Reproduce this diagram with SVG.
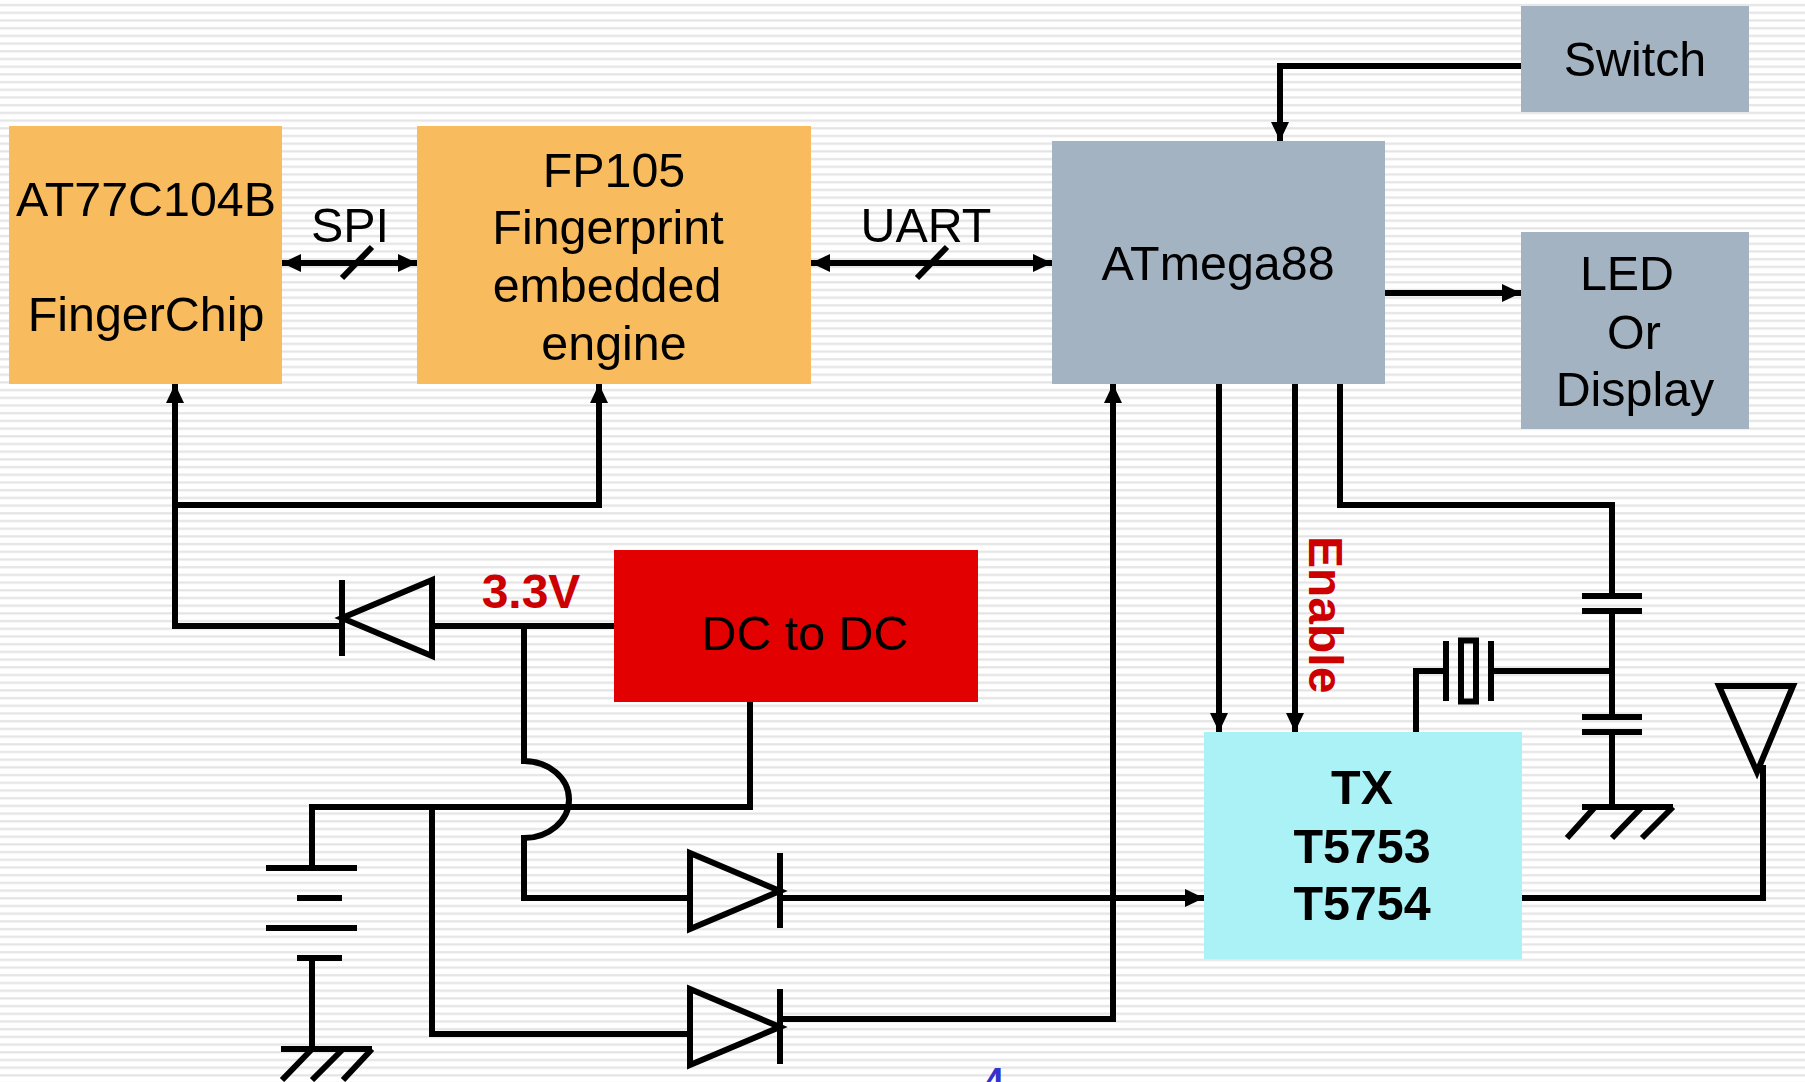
<svg xmlns="http://www.w3.org/2000/svg" width="1805" height="1082" viewBox="0 0 1805 1082">
<style>
.box-o{fill:#F8BC5E}.box-g{fill:#A3B3C2}
text{font-family:"Liberation Sans",Arial,sans-serif;font-size:48.4px;fill:#000;text-anchor:middle}
.b{font-weight:bold}.r{fill:#CC0000;font-size:48px}
.w{fill:none;stroke:#000;stroke-width:6;stroke-linejoin:miter}
.a{marker-end:url(#ah)}.aa{marker-end:url(#ah);marker-start:url(#ah)}
</style>
<defs>
<pattern id="stripes" patternUnits="userSpaceOnUse" width="20" height="7.7">
<rect width="20" height="7.7" fill="#fff"/>
<rect y="4" width="20" height="2.2" fill="#E4E4E4"/>
</pattern>
<marker id="ah" markerUnits="userSpaceOnUse" markerWidth="20" markerHeight="20" refX="19" refY="10" orient="auto-start-reverse">
<path d="M0 1L19 10L0 19z" fill="#000"/>
</marker>
</defs>
<rect id="background" width="1805" height="1082" fill="url(#stripes)"/>
<g id="connectors">
<path class="w aa" d="M282 263H417"/>
<path class="w" d="M372 247L342 278"/>
<path class="w aa" d="M811 263H1052"/>
<path class="w" d="M947 247L917 278"/>
<path class="w a" d="M1521 66H1280V141"/>
<path class="w a" d="M1385 293H1521"/>
<path class="w a" d="M1219 384V732"/>
<path class="w a" d="M1295 384V732"/>
<path class="w" d="M1340 384V505H1612V596"/>
<path class="w" d="M1612 611V717"/>
<path class="w" d="M1612 732V807"/>
<path class="w" d="M1612 671H1491"/>
<path class="w" d="M1446 671H1416V732"/>
<path class="w a" d="M342 626H175V384"/>
<path class="w a" d="M175 505H599V384"/>
<path class="w" d="M432 626H614"/>
<path class="w" d="M524 626V761A45 38.5 0 0 1 524 838V898H690"/>
<path class="w" d="M750 702V807H312V868"/>
<path class="w" d="M432 807V1034H690"/>
<path class="w a" d="M780 898H1204"/>
<path class="w a" d="M780 1019H1113V384"/>
<path class="w" d="M1522 898H1763V765"/>
<path class="w" d="M312 958V1049"/>
</g>
<g id="at77c104b"><rect class="box-o" x="9" y="126" width="273" height="258"/><text x="146" y="216">AT77C104B</text><text x="146" y="331">FingerChip</text></g>
<g id="fp105"><rect class="box-o" x="417" y="126" width="394" height="258"/><text x="614" y="187">FP105</text><text x="608" y="244">Fingerprint</text><text x="607" y="302">embedded</text><text x="614" y="360">engine</text></g>
<g id="atmega88"><rect class="box-g" x="1052" y="141" width="333" height="243"/><text x="1218" y="280">ATmega88</text></g>
<g id="switch"><rect class="box-g" x="1521" y="6" width="228" height="106"/><text x="1635" y="76">Switch</text></g>
<g id="led"><rect class="box-g" x="1521" y="232" width="228" height="197"/><text x="1627" y="290">LED</text><text x="1634" y="349">Or</text><text x="1635" y="406">Display</text></g>
<g id="dcdc"><rect x="614" y="550" width="364" height="152" fill="#E30000"/><text x="805" y="650">DC to DC</text></g>
<g id="tx"><rect x="1204" y="732" width="318" height="227" fill="#ABF2F6"/><text class="b" x="1362" y="804">TX</text><text class="b" x="1362" y="863">T5753</text><text class="b" x="1362" y="920">T5754</text></g>
<g id="labels">
<text x="350" y="242">SPI</text>
<text x="926" y="242">UART</text>
<text class="b r" x="531" y="608">3.3V</text>
<text class="b r" style="text-anchor:start" transform="translate(1309 536) rotate(90)">Enable</text>
<text class="b" x="994" y="1094" style="font-size:36px;fill:#3333CC">4</text>
</g>
<g id="diode-1"><path class="w" d="M432 580V656L342 618z"/><path class="w" d="M342 580V656"/></g>
<g id="diode-2"><path class="w" d="M690 853V929L780 891z"/><path class="w" d="M780 853V928"/></g>
<g id="diode-3"><path class="w" d="M690 989V1065L780 1027z"/><path class="w" d="M780 989V1064"/></g>
<g id="battery"><path class="w" d="M266 868H357M297 898H342M266 928H357M297 958H342"/></g>
<g id="ground-1"><path class="w" d="M281 1049H372M312 1049L282 1080M343 1049L312 1080M372 1049L343 1080"/></g>
<g id="cap-1"><path class="w" d="M1582 596H1642M1582 611H1642"/></g>
<g id="cap-2"><path class="w" d="M1582 717H1642M1582 732H1642"/></g>
<g id="ground-2"><path class="w" d="M1582 807H1673M1595 807L1567 838M1642 807L1612 838M1673 807L1642 838"/></g>
<g id="crystal"><path class="w" d="M1446 641V701M1491 641V701"/><rect class="w" x="1461" y="640.5" width="15" height="61"/></g>
<g id="antenna"><path class="w" d="M1719 686H1793L1757 772z"/></g>
</svg>
